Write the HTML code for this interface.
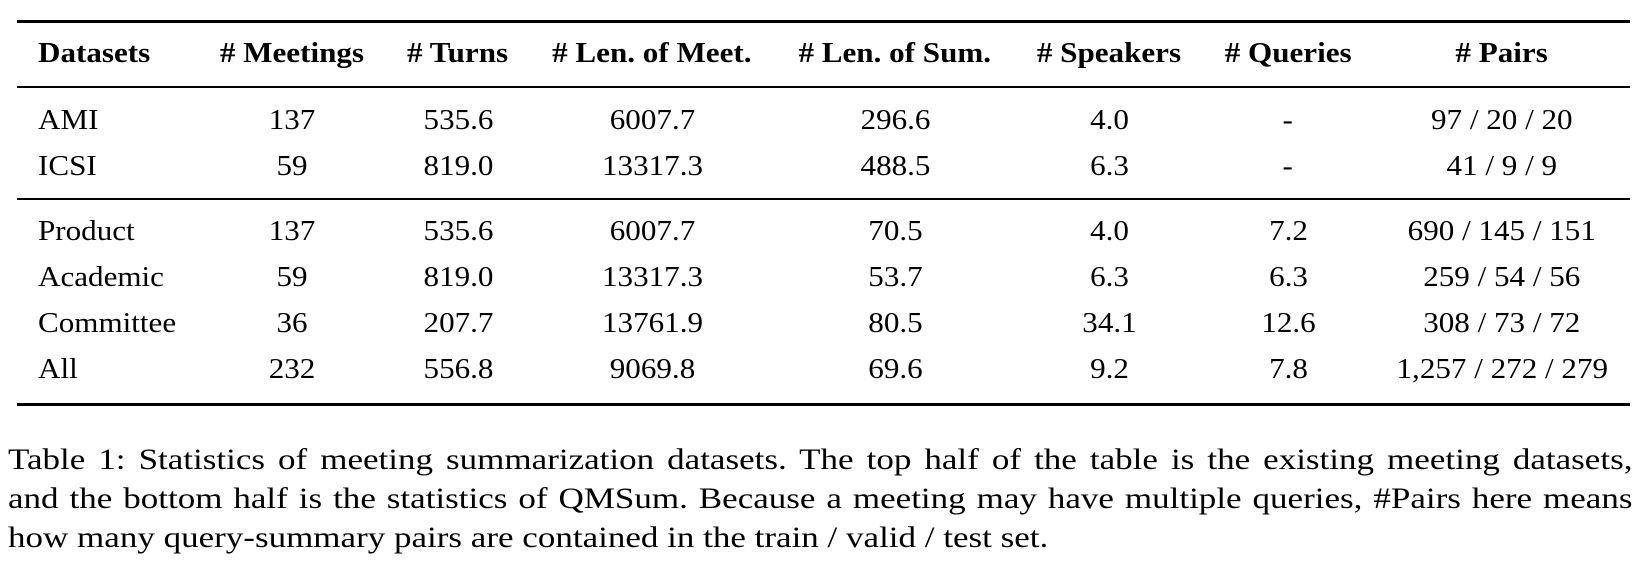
<!DOCTYPE html>
<html><head><meta charset="utf-8"><style>
body{margin:0;background:#fff;width:1647px;height:579px;overflow:hidden;position:relative;font-family:"Liberation Serif",serif;color:#000}
.rule{position:absolute;left:17px;width:1613px;background:#000}
.c{position:absolute;font-size:28px;white-space:nowrap;line-height:1}
.h{font-weight:bold}
.cl{position:absolute;left:8px;width:1392px;font-size:30px;line-height:1;white-space:nowrap;transform:scaleX(1.167);transform-origin:0 0}
.j{text-align:justify;text-align-last:justify}
</style></head><body>
<div class="rule" style="top:20px;height:2.5px"></div>
<div class="rule" style="top:86px;height:1.5px"></div>
<div class="rule" style="top:198px;height:1.5px"></div>
<div class="rule" style="top:403px;height:2.5px"></div>
<div id="tbl"></div>
<div>
<div class="cl j" style="top:445px">Table 1: Statistics of meeting summarization datasets. The top half of the table is the existing meeting datasets,</div>
<div class="cl j" style="top:484px">and the bottom half is the statistics of QMSum. Because a meeting may have multiple queries, #Pairs here means</div>
<div class="cl" style="top:523px">how many query-summary pairs are contained in the train / valid / test set.</div>
</div>
<script>
const headers=["Datasets","# Meetings","# Turns","# Len. of Meet.","# Len. of Sum.","# Speakers","# Queries","# Pairs"];
const datasets=["AMI","ICSI","Product","Academic","Committee","All"];
const meetings=["137","59","137","59","36","232"];
const turns=["535.6","819.0","535.6","819.0","207.7","556.8"];
const lenMeet=["6007.7","13317.3","6007.7","13317.3","13761.9","9069.8"];
const lenSum=["296.6","488.5","70.5","53.7","80.5","69.6"];
const speakers=["4.0","6.3","4.0","6.3","34.1","9.2"];
const queries=["-","-","7.2","6.3","12.6","7.8"];
const pairs=["97 / 20 / 20","41 / 9 / 9","690 / 145 / 151","259 / 54 / 56","308 / 73 / 72","1,257 / 272 / 279"];
const centers=[null,292,458,652,895,1109,1288,1502];
const rowBase=[132,178,243,289,335,381];
const cols=[datasets,meetings,turns,lenMeet,lenSum,speakers,queries,pairs];
const tbl=document.getElementById('tbl');
function place(text,ci,base,bold,name){
  const d=document.createElement('div');
  d.className='c'+(bold?' h':'');
  d.textContent=text;
  
  
  tbl.appendChild(d);
  const w=d.getBoundingClientRect().width;
  if(ci===0){d.style.left='38px';d.style.transformOrigin='0 0';}
  else{d.style.left=(centers[ci]-w/2)+'px';d.style.transformOrigin='50% 0';}
  d.style.transform='scaleX(1.11)';
  d.style.top=(base-25)+'px';
}
headers.forEach((h,i)=>place(h,i,65,true,'header-'+i));
cols.forEach((col,ci)=>col.forEach((v,ri)=>place(v,ci,rowBase[ri],false,'cell-r'+ri+'-c'+ci)));
</script>
</body></html>
